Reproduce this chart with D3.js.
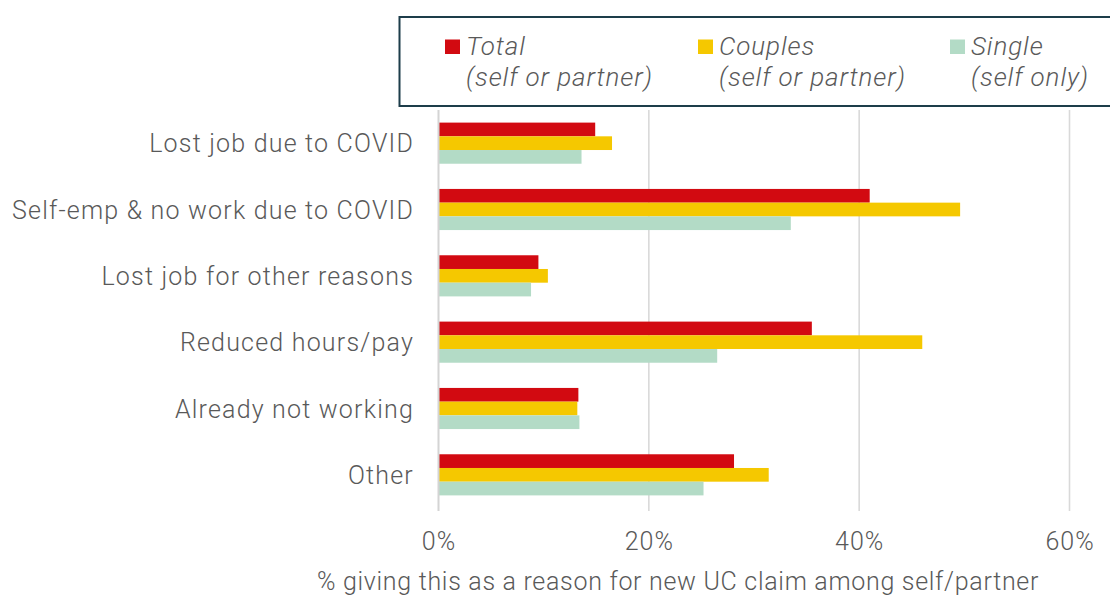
<!DOCTYPE html>
<html>
<head>
<meta charset="utf-8">
<script src="https://cdn.jsdelivr.net/npm/d3@7"></script>
<style>
  html, body { margin: 0; padding: 0; background: #fff; }
  svg { display: block; font-family: Roboto, "Noto Sans", sans-serif; }
</style>
</head>
<body>
<svg id="chart" width="1110" height="595"></svg>
<script>
const categories = [
  "Lost job due to COVID",
  "Self-emp & no work due to COVID",
  "Lost job for other reasons",
  "Reduced hours/pay",
  "Already not working",
  "Other"
];
const seriesNames = ["Total", "Couples", "Single"];
const seriesSub = ["(self or partner)", "(self or partner)", "(self only)"];
const totalValues   = [0.149, 0.410, 0.095, 0.355, 0.133, 0.281];
const couplesValues = [0.165, 0.496, 0.104, 0.460, 0.132, 0.314];
const singleValues  = [0.136, 0.335, 0.088, 0.265, 0.134, 0.252];
const xTicks = [0, 0.2, 0.4, 0.6];
const xTitle = "% giving this as a reason for new UC claim among self/partner";

const colors = ["#d20a11", "#f5c800", "#b3dbc6"];
const seriesValues = [totalValues, couplesValues, singleValues];

const svg = d3.select("#chart");
const textColor = "#595959";

const x = d3.scaleLinear().domain([0, 0.6]).range([438.5, 1069.5]);
const y = d3.scaleBand().domain(categories).range([110, 508])
  .paddingInner(0.38).paddingOuter(0.19);
const ySub = d3.scaleBand().domain(seriesNames).range([0, y.bandwidth()]);

// gridlines
svg.append("g").selectAll("line").data(xTicks.filter(d => d > 0)).join("line")
  .attr("x1", d => x(d)).attr("x2", d => x(d))
  .attr("y1", 110).attr("y2", 511)
  .attr("stroke", "#d9d9d9").attr("stroke-width", 1.6);

// bars
const groups = svg.append("g").selectAll("g").data(categories).join("g")
  .attr("transform", c => `translate(0,${y(c)})`);
groups.selectAll("rect")
  .data((c, i) => seriesNames.map((s, j) => ({ s, v: seriesValues[j][i], j })))
  .join("rect")
  .attr("x", x(0) + 0.5)
  .attr("y", d => ySub(d.s))
  .attr("width", d => x(d.v) - x(0) - 0.5)
  .attr("height", ySub.bandwidth())
  .attr("fill", d => colors[d.j]);

// zero axis line
svg.append("line")
  .attr("x1", x(0)).attr("x2", x(0))
  .attr("y1", 110).attr("y2", 511)
  .attr("stroke", "#d4d4d4").attr("stroke-width", 2);

// category labels
svg.append("g").selectAll("text").data(categories).join("text")
  .attr("x", 414)
  .attr("y", c => y(c) + y.bandwidth() / 2 + 9)
  .attr("text-anchor", "end")
  .attr("font-size", 25)
  .attr("font-weight", 300)
  .attr("letter-spacing", 1.2)
  .attr("fill", textColor)
  .text(c => c);

// x tick labels
const xAxis = d3.axisBottom(x).tickValues(xTicks).tickFormat(d3.format(".0%")).tickSize(0).tickPadding(0);
const gx = svg.append("g").attr("transform", "translate(0,531)").call(xAxis);
gx.select(".domain").remove();
gx.selectAll("text")
  .attr("dy", 0).attr("y", 18.5)
  .attr("font-size", 25).attr("font-weight", 300)
  .attr("letter-spacing", 1)
  .attr("font-family", "Roboto, sans-serif")
  .attr("fill", textColor);

// x title
svg.append("text")
  .attr("x", 678).attr("y", 590)
  .attr("text-anchor", "middle")
  .attr("font-size", 25).attr("font-weight", 300)
  .attr("letter-spacing", 0.7)
  .attr("fill", textColor)
  .text(xTitle);

// legend
svg.append("rect")
  .attr("x", 399.5).attr("y", 17).attr("width", 740).attr("height", 89)
  .attr("fill", "#fff").attr("stroke", "#1d3d4a").attr("stroke-width", 2);
const legendX = [445, 698, 950];
const lg = svg.append("g").selectAll("g").data(seriesNames).join("g")
  .attr("transform", (d, i) => `translate(${legendX[i]},0)`);
lg.append("rect").attr("x", 0).attr("y", 39.5).attr("width", 15).attr("height", 14.5)
  .attr("fill", (d, i) => colors[i]);
lg.append("text").attr("x", 21).attr("y", 55)
  .attr("font-size", 26).attr("font-weight", 300).attr("font-style", "italic")
  .attr("letter-spacing", 0.9)
  .attr("fill", textColor).text(d => d);
lg.append("text").attr("x", 21).attr("y", 86)
  .attr("font-size", 26).attr("font-weight", 300).attr("font-style", "italic")
  .attr("letter-spacing", 0.9)
  .attr("fill", textColor).text((d, i) => seriesSub[i]);
</script>
</body>
</html>
